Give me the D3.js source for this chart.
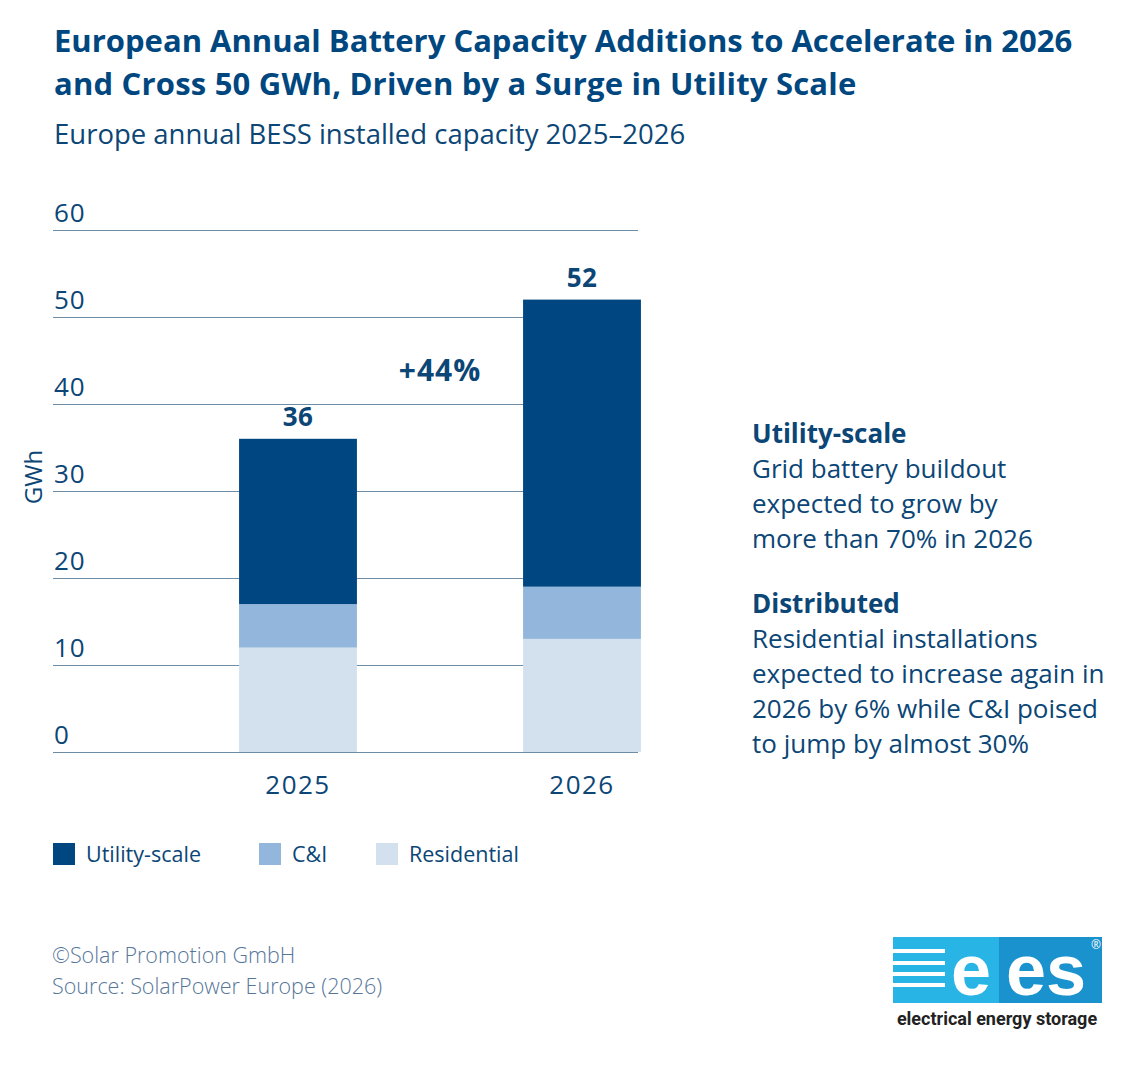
<!DOCTYPE html>
<html>
<head>
<meta charset="utf-8">
<script src="https://cdn.jsdelivr.net/npm/d3@7"></script>
<style>
  body { margin: 0; background: #fff; }
  svg { display: block; font-family: "Open Sans", "Noto Sans", sans-serif; }
</style>
</head>
<body>
<script>
// data
var years = ["2025", "2026"];
var series = ["Utility-scale", "C&I", "Residential"];
var residential = [12, 13];
var cni = [5, 6];
var utility = [19, 33];
var totals = [36, 52];
var yTicks = [0, 10, 20, 30, 40, 50, 60];
var growthLabel = "+44%";

var colors = { "Utility-scale": "#004680", "C&I": "#93b7dc", "Residential": "#d3e0ee" };
var textColor = "#0b4676";

var svg = d3.select("body")
  .append("svg")
  .attr("width", 1133)
  .attr("height", 1079);

// titles
svg.append("text")
  .attr("x", 54).attr("y", 52)
  .attr("font-size", 31).attr("font-weight", 700)
  .attr("fill", "#00477f")
  .text("European Annual Battery Capacity Additions to Accelerate in 2026");
svg.append("text")
  .attr("x", 54).attr("y", 95)
  .attr("font-size", 31).attr("font-weight", 700)
  .attr("fill", "#00477f")
  .attr("letter-spacing", 0.2)
  .text("and Cross 50 GWh, Driven by a Surge in Utility Scale");
svg.append("text")
  .attr("x", 54).attr("y", 144)
  .attr("font-size", 27.5)
  .attr("fill", textColor)
  .text("Europe annual BESS installed capacity 2025\u20132026");

// scales
var y = d3.scaleLinear().domain([0, 60]).range([752, 230]);
var x = d3.scaleBand().domain(years).range([156, 724])
  .paddingInner(0.585).paddingOuter(0.2925);

// gridlines + tick labels
var axis = svg.append("g")
  .attr("transform", "translate(53,0)")
  .call(d3.axisRight(y).tickValues(yTicks).tickSize(585));
axis.select(".domain").remove();
axis.selectAll(".tick line").attr("stroke", "#6d8ca6").attr("stroke-width", 1.2);
axis.selectAll(".tick text")
  .attr("x", 1).attr("dy", -9)
  .attr("text-anchor", "start")
  .attr("font-size", 26)
  .attr("letter-spacing", 1)
  .attr("font-family", "\"Open Sans\", sans-serif")
  .attr("fill", textColor);

svg.append("text")
  .attr("transform", "translate(42,477) rotate(-90)")
  .attr("text-anchor", "middle")
  .attr("font-size", 24)
  .attr("fill", textColor)
  .text("GWh");

// stacked bars
var rows = years.map(function (yr, i) {
  return { year: yr, "Residential": residential[i], "C&I": cni[i], "Utility-scale": utility[i] };
});
var stack = d3.stack().keys(["Residential", "C&I", "Utility-scale"])(rows);

svg.append("g").selectAll("g")
  .data(stack)
  .join("g")
  .attr("fill", function (d) { return colors[d.key]; })
  .selectAll("rect")
  .data(function (d) { return d; })
  .join("rect")
  .attr("x", function (d) { return x(d.data.year); })
  .attr("y", function (d) { return y(d[1]); })
  .attr("width", x.bandwidth())
  .attr("height", function (d) { return y(d[0]) - y(d[1]); });

// total labels
svg.append("g").selectAll("text")
  .data(years)
  .join("text")
  .attr("x", function (d) { return x(d) + x.bandwidth() / 2; })
  .attr("y", function (d, i) { return y(totals[i]) - 13; })
  .attr("text-anchor", "middle")
  .attr("font-size", 26).attr("font-weight", 700)
  .attr("letter-spacing", 0.5)
  .attr("fill", textColor)
  .text(function (d, i) { return totals[i]; });

// year labels
svg.append("g").selectAll("text")
  .data(years)
  .join("text")
  .attr("x", function (d) { return x(d) + x.bandwidth() / 2; })
  .attr("y", 794)
  .attr("text-anchor", "middle")
  .attr("font-size", 26)
  .attr("letter-spacing", 1.5)
  .attr("fill", textColor)
  .text(function (d) { return d; });

// growth label
svg.append("text")
  .attr("x", (x(years[0]) + x(years[1]) + x.bandwidth()) / 2)
  .attr("y", 381)
  .attr("text-anchor", "middle")
  .attr("font-size", 30).attr("font-weight", 700)
  .attr("letter-spacing", 1)
  .attr("fill", textColor)
  .text(growthLabel);

// legend
var legendX = [53, 259, 376];
var leg = svg.append("g").selectAll("g")
  .data(series)
  .join("g")
  .attr("transform", function (d, i) { return "translate(" + legendX[i] + ",843)"; });
leg.append("rect")
  .attr("width", 22).attr("height", 22)
  .attr("fill", function (d) { return colors[d]; });
leg.append("text")
  .attr("x", 33).attr("y", 19)
  .attr("font-size", 21.5)
  .attr("fill", textColor)
  .text(function (d) { return d; });

// notes on the right
var notes = [
  { text: "Utility-scale", bold: true, y: 443 },
  { text: "Grid battery buildout", y: 478 },
  { text: "expected to grow by", y: 513 },
  { text: "more than 70% in 2026", y: 548 },
  { text: "Distributed", bold: true, y: 613 },
  { text: "Residential installations", y: 648 },
  { text: "expected to increase again in", y: 683 },
  { text: "2026 by 6% while C&I poised", y: 718 },
  { text: "to jump by almost 30%", y: 753 }
];
svg.append("g").selectAll("text")
  .data(notes)
  .join("text")
  .attr("x", 752)
  .attr("y", function (d) { return d.y; })
  .attr("font-size", 26)
  .attr("font-weight", function (d) { return d.bold ? 700 : 400; })
  .attr("fill", textColor)
  .text(function (d) { return d.text; });

// source
svg.append("text")
  .attr("x", 52).attr("y", 963)
  .attr("font-size", 21.5).attr("font-weight", 300)
  .attr("fill", "#56769a")
  .text("\u00A9Solar Promotion GmbH");
svg.append("text")
  .attr("x", 52).attr("y", 994)
  .attr("font-size", 21.5).attr("font-weight", 300)
  .attr("fill", "#56769a")
  .text("Source: SolarPower Europe (2026)");

// ees logo
var logo = svg.append("g").attr("transform", "translate(893,937)");
logo.append("rect").attr("width", 106).attr("height", 66).attr("fill", "#28b4e5");
logo.append("rect").attr("x", 106).attr("width", 103).attr("height", 66).attr("fill", "#1a92cd");
[12, 24, 35, 46].forEach(function (sy) {
  logo.append("rect").attr("x", 0).attr("y", sy).attr("width", 52).attr("height", 4).attr("fill", "#fff");
});
logo.append("text")
  .attr("x", 78).attr("y", 58)
  .attr("text-anchor", "middle")
  .attr("font-family", "Liberation Sans, Arial, sans-serif")
  .attr("font-size", 72).attr("font-weight", 700)
  .attr("fill", "#fff")
  .text("e");
logo.append("text")
  .attr("x", 153).attr("y", 58)
  .attr("text-anchor", "middle")
  .attr("font-family", "Liberation Sans, Arial, sans-serif")
  .attr("font-size", 72).attr("font-weight", 700)
  .attr("fill", "#fff")
  .text("es");
logo.append("text")
  .attr("x", 203).attr("y", 12)
  .attr("text-anchor", "middle")
  .attr("font-size", 12)
  .attr("fill", "#fff")
  .text("\u00AE");
logo.append("text")
  .attr("x", 104).attr("y", 88)
  .attr("text-anchor", "middle")
  .attr("font-family", "Roboto, sans-serif")
  .attr("font-size", 18).attr("font-weight", 700)
  .attr("fill", "#222")
  .text("electrical energy storage");
</script>
</body>
</html>
